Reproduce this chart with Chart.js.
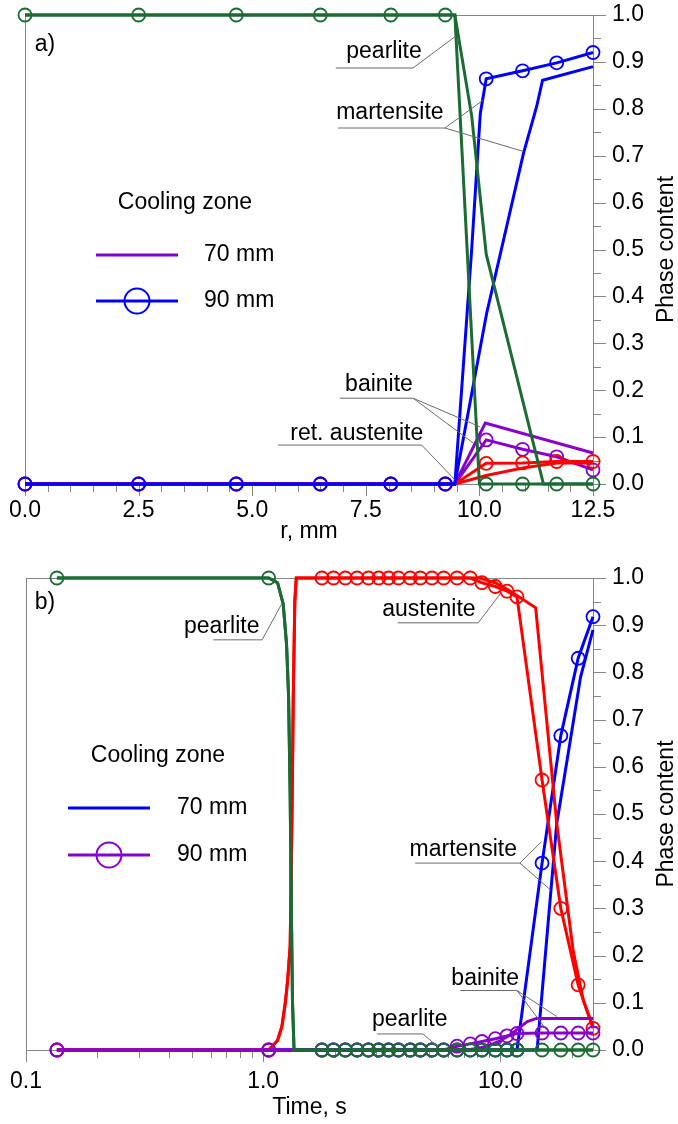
<!DOCTYPE html>
<html>
<head>
<meta charset="utf-8">
<script src="https://cdn.jsdelivr.net/npm/chart.js@4"></script>
<style>
  body { margin: 0; background: #fff; }
  #wrap { position: relative; width: 678px; height: 1124px; }
  canvas { position: absolute; left: 0; }
  #chartA { top: 0; }
  #chartB { top: 550px; }
</style>
</head>
<body>
<div id="wrap">
  <canvas id="chartA" width="678" height="550"></canvas>
  <canvas id="chartB" width="678" height="574"></canvas>
</div>
<script>
const FONT = "'Liberation Sans', Arial, sans-serif";
const GREEN = '#1b6b32', BLUE = '#0000ff', RED = '#ff0000', PURPLE = '#8800cc';

// ---------- panel a) : phase content over radius r, mm ----------
const rTicks = [0, 2.5, 5, 7.5, 10, 12.5];
const rMarks = [0, 2.5, 4.65, 6.5, 8.05, 9.25, 10.15, 10.95, 11.7, 12.5];   // 90 mm circles

const rPearlite90 = [0, 2.5, 4.65, 6.5, 8.05, 9.25, 9.46, 10.0, 10.15, 10.95, 11.7, 12.5];
const pearlite90A = [1, 1, 1, 1, 1, 1, 1, 0, 0, 0, 0, 0];
const rMartensite90 = [0, 2.5, 4.65, 6.5, 8.05, 9.25, 9.46, 9.83, 10.02, 10.15, 10.95, 11.7, 12.5];
const martensite90A = [0, 0, 0, 0, 0, 0, 0, 0.5, 0.79, 0.864, 0.881, 0.898, 0.92];
const rPhase90 = [0, 2.5, 4.65, 6.5, 8.05, 9.25, 9.46, 10.15, 10.95, 11.7, 12.5];
const bainite90A = [0, 0, 0, 0, 0, 0, 0, 0.094, 0.074, 0.058, 0.030];
const retAustenite90A = [0, 0, 0, 0, 0, 0, 0, 0.044, 0.045, 0.048, 0.048];

const rPearlite70 = [0, 9.46, 9.83, 10.15, 11.41, 12.5];
const pearlite70A = [1, 1, 0.785, 0.49, 0, 0];
const rMartensite70 = [0, 9.46, 10.16, 10.97, 11.26, 11.39, 12.5];
const martensite70A = [0, 0, 0.364, 0.705, 0.805, 0.861, 0.89];
const rBainite70 = [0, 9.46, 10.13, 12.5];
const bainite70A = [0, 0, 0.13, 0.066];
const rRetAustenite70 = [0, 9.46, 10.15, 10.95, 11.7, 12.5];
const retAustenite70A = [0, 0, 0.018, 0.034, 0.045, 0.045];

// ---------- panel b) : phase content over time, s ----------
const tTicks = [0.1, 1, 10];
const tMarks = [0.135, 1.055, 1.77, 1.98, 2.22, 2.49, 2.78, 3.07, 3.38, 3.72, 4.17, 4.6,
                5.15, 5.77, 6.57, 7.47, 8.37, 9.53, 10.67, 11.76, 15.0, 18.0, 21.3, 24.6];

const tPearlite90 = [0.135, 1.055, 1.15, 1.215, 1.255, 1.28, 1.3, 1.315, 1.33, 1.35, 1.77, 1.98, 2.22,
                     2.49, 2.78, 3.07, 3.38, 3.72, 4.17, 4.6, 5.15, 5.77, 6.57, 7.47, 8.37, 9.53,
                     10.67, 11.76, 15.0, 18.0, 21.3, 24.6];
const pearlite90B = [1, 1, 0.99, 0.945, 0.86, 0.75, 0.54, 0.3, 0.1, 0, 0, 0, 0,
                     0, 0, 0, 0, 0, 0, 0, 0, 0, 0, 0, 0, 0,
                     0, 0, 0, 0, 0, 0];
const tAustenite90 = [0.135, 1.055, 1.15, 1.2, 1.24, 1.27, 1.3, 1.32, 1.34, 1.36, 1.38, 1.77, 1.98,
                      2.22, 2.49, 2.78, 3.07, 3.38, 3.72, 4.17, 4.6, 5.15, 5.77, 6.57, 7.47, 8.37,
                      9.53, 10.67, 11.76, 15.0, 18.0, 21.3, 24.6];
const austenite90B = [0, 0, 0.02, 0.05, 0.1, 0.15, 0.22, 0.45, 0.75, 0.95, 1, 1, 1,
                      1, 1, 1, 1, 1, 1, 1, 1, 1, 1, 1, 1, 0.99,
                      0.982, 0.972, 0.96, 0.572, 0.30, 0.138, 0.046];
const martensite90B = [0, 0, 0, 0, 0, 0, 0, 0, 0, 0, 0, 0,
                       0, 0, 0, 0, 0, 0, 0, 0, 0.396, 0.666, 0.83, 0.918];
const bainite90B = [0, 0, 0, 0, 0, 0, 0, 0, 0, 0, 0, 0,
                    0, 0, 0.008, 0.013, 0.018, 0.024, 0.03, 0.035, 0.036, 0.036, 0.036, 0.036];

const tPearlite70 = [0.135, 1.055, 1.15, 1.215, 1.255, 1.28, 1.3, 1.315, 1.33, 1.35, 24.6];
const pearlite70B = [1, 1, 0.99, 0.945, 0.86, 0.75, 0.54, 0.3, 0.1, 0, 0];
const tAustenite70 = [0.135, 1.055, 1.15, 1.2, 1.24, 1.27, 1.3, 1.32, 1.34, 1.36, 1.38, 8.2, 9.5,
                      10.7, 11.76, 14.1, 17.3, 20.3, 22.4, 24.6];
const austenite70B = [0, 0, 0.02, 0.05, 0.1, 0.15, 0.22, 0.45, 0.75, 0.95, 1, 1, 0.99,
                      0.976, 0.963, 0.937, 0.48, 0.21, 0.105, 0.05];
const tMartensite70 = [0.135, 14.3, 17.3, 19.5, 21.8, 24.6];
const martensite70B = [0, 0, 0.48, 0.64, 0.79, 0.89];
const tBainite70 = [0.135, 7.2, 8.0, 9.0, 10.0, 11.0, 12.1, 13.0, 14.2, 24.6];
const bainite70B = [0, 0, 0.003, 0.01, 0.02, 0.032, 0.048, 0.06, 0.067, 0.067];

// text labels with leader lines, placed in data coordinates
const notesA = [
  { text: 'a)', at: [0.44, 0.936], lines: [] },
  { text: 'pearlite', at: [7.9, 0.921], lines: [[[6.84, 0.887], [8.54, 0.887], [9.48, 0.955]]] },
  { text: 'martensite', at: [8.03, 0.791], lines: [[[6.89, 0.759], [9.24, 0.759], [10.09, 0.819]],
                                                   [[9.24, 0.759], [10.97, 0.709]]] },
  { text: 'bainite', at: [7.79, 0.211], lines: [[[6.93, 0.183], [8.54, 0.183], [10.01, 0.122]],
                                                [[8.54, 0.183], [9.87, 0.087]]] },
  { text: 'ret. austenite', at: [7.3, 0.108], lines: [[[5.57, 0.083], [8.73, 0.083], [9.46, 0.009]]] }
];
const notesB = [
  { text: 'b)', at: [0.1203, 0.947], lines: [] },
  { text: 'pearlite', at: [0.669, 0.897], lines: [[[0.616, 0.869], [0.99, 0.869], [1.2, 0.946]]] },
  { text: 'austenite', at: [5.0, 0.932], lines: [[[3.69, 0.905], [8.07, 0.905], [10.15, 0.971]]] },
  { text: 'martensite', at: [6.98, 0.424], lines: [[[4.38, 0.396], [12.1, 0.396], [14.9, 0.441]],
                                                   [[12.1, 0.396], [16.3, 0.339]]] },
  { text: 'bainite', at: [8.64, 0.152], lines: [[[6.78, 0.126], [11.76, 0.126], [17.3, 0.071]],
                                                [[11.76, 0.126], [15.7, 0.042]]] },
  { text: 'pearlite', at: [4.15, 0.064], lines: [[[3.02, 0.034], [4.72, 0.034], [5.45, 0.007]]] }
];

Chart.defaults.font.family = FONT;
Chart.defaults.font.size = 23;
Chart.defaults.color = '#000';

function pts(xs, ys) {
  return xs.map((x, i) => ({ x: x, y: ys[i] }));
}

function plain(xs, ys, color) {
  return { data: pts(xs, ys), borderColor: color, borderWidth: 3, pointRadius: 0,
           pointHoverRadius: 0, fill: false, clip: false };
}

function marked(xs, ys, color, marks) {
  return { data: pts(xs, ys), borderColor: color, borderWidth: 3,
           pointRadius: c => (c.raw && marks.includes(c.raw.x)) ? 6.5 : 0,
           pointHoverRadius: 0, pointBorderColor: color, pointBorderWidth: 1.8,
           pointBackgroundColor: 'rgba(0,0,0,0)', fill: false, clip: false };
}

// frame, minor ticks, axis titles, notes and the "Cooling zone" legend
function decor(cfg) {
  return {
    id: 'decor',
    beforeDatasetsDraw(chart) {
      const ctx = chart.ctx, a = chart.chartArea;
      const xs = chart.scales.x, ys = chart.scales.y;
      ctx.save();
      ctx.strokeStyle = '#858585';
      ctx.lineWidth = 1;
      ctx.strokeRect(a.left + 0.5, a.top + 0.5, a.right - a.left, a.bottom - a.top);
      ctx.beginPath();
      cfg.xMajor.forEach(v => {
        const p = Math.round(xs.getPixelForValue(v)) + 0.5;
        ctx.moveTo(p, a.bottom); ctx.lineTo(p, a.bottom + 12);
      });
      cfg.xMinor.forEach(v => {
        const p = Math.round(xs.getPixelForValue(v)) + 0.5;
        ctx.moveTo(p, a.bottom); ctx.lineTo(p, a.bottom + 8);
      });
      for (let k = 0; k <= 20; k++) {
        const p = Math.round(ys.getPixelForValue(k * 0.05)) + 0.5;
        ctx.moveTo(a.right, p); ctx.lineTo(a.right + (k % 2 === 0 ? 13 : 8), p);
      }
      ctx.stroke();
      ctx.restore();
    },
    afterDatasetsDraw(chart) {
      const ctx = chart.ctx, a = chart.chartArea;
      const xs = chart.scales.x, ys = chart.scales.y;
      const px = p => [xs.getPixelForValue(p[0]), ys.getPixelForValue(p[1])];
      ctx.save();
      ctx.font = '23px ' + FONT;
      ctx.fillStyle = '#000';
      ctx.textBaseline = 'middle';

      // notes
      cfg.notes.forEach(n => {
        ctx.strokeStyle = '#6a6a6a';
        ctx.lineWidth = 1;
        n.lines.forEach(line => {
          ctx.beginPath();
          line.forEach((p, i) => {
            const q = px(p);
            if (i === 0) ctx.moveTo(q[0], q[1]); else ctx.lineTo(q[0], q[1]);
          });
          ctx.stroke();
        });
        const t = px(n.at);
        ctx.textAlign = 'center';
        ctx.fillText(n.text, t[0], t[1]);
      });

      // legend
      const lg = cfg.legend;
      ctx.textAlign = 'center';
      ctx.fillText('Cooling zone', lg.titleX, lg.titleY);
      lg.items.forEach(it => {
        ctx.strokeStyle = it.color;
        ctx.lineWidth = 3;
        ctx.beginPath();
        ctx.moveTo(lg.x0, it.y); ctx.lineTo(lg.x1, it.y);
        ctx.stroke();
        if (it.circle) {
          ctx.lineWidth = 2;
          ctx.beginPath();
          ctx.arc((lg.x0 + lg.x1) / 2, it.y, 12.5, 0, Math.PI * 2);
          ctx.stroke();
        }
        ctx.textAlign = 'left';
        ctx.fillText(it.label, lg.textX, it.y);
      });

      // axis titles
      ctx.textAlign = 'center';
      ctx.fillText(cfg.xTitle, (a.left + a.right) / 2, cfg.xTitleY);
      ctx.translate(667, (a.top + a.bottom) / 2);
      ctx.rotate(-Math.PI / 2);
      ctx.fillText('Phase content', 0, 0);
      ctx.restore();
    }
  };
}

function yAxis() {
  return {
    type: 'linear', position: 'right', min: 0, max: 1,
    grid: { display: false, drawTicks: false }, border: { display: false },
    ticks: { stepSize: 0.1, padding: 19, callback: v => Number(v).toFixed(1) },
    afterFit: s => { s.width = 85; s.paddingTop = 0; s.paddingBottom = 0; }
  };
}

const baseOptions = {
  responsive: false,
  animation: false,
  events: [],
  plugins: { legend: { display: false }, tooltip: { enabled: false } }
};

// ---- chart a
const rMinor = [];
for (let v = 0.5; v < 12.5; v += 0.5) if (!rTicks.includes(v)) rMinor.push(v);

new Chart(document.getElementById('chartA'), {
  type: 'line',
  data: {
    datasets: [
      marked(rPearlite90, pearlite90A, GREEN, rMarks),
      plain(rPearlite70, pearlite70A, GREEN),
      marked(rMartensite90, martensite90A, BLUE, rMarks),
      plain(rMartensite70, martensite70A, BLUE),
      marked(rPhase90, retAustenite90A, RED, rMarks),
      plain(rRetAustenite70, retAustenite70A, RED),
      marked(rPhase90, bainite90A, PURPLE, rMarks),
      plain(rBainite70, bainite70A, PURPLE)
    ]
  },
  options: Object.assign({}, baseOptions, {
    layout: { padding: { left: 25, top: 15, right: 0, bottom: 0 } },
    scales: {
      x: {
        type: 'linear', position: 'bottom', min: 0, max: 12.5,
        grid: { display: false, drawTicks: false }, border: { display: false },
        ticks: { stepSize: 2.5, padding: 13, maxRotation: 0, autoSkip: false,
                 callback: v => Number(v).toFixed(1) },
        afterFit: s => { s.height = 66; s.paddingLeft = 0; s.paddingRight = 0; }
      },
      y: yAxis()
    }
  }),
  plugins: [decor({
    xMajor: rTicks, xMinor: rMinor, xTitle: 'r, mm', xTitleY: 532, notes: notesA,
    legend: { titleX: 185, titleY: 203, x0: 96, x1: 178, textX: 204,
              items: [{ label: '70 mm', color: PURPLE, circle: false, y: 255 },
                      { label: '90 mm', color: BLUE, circle: true, y: 301 }] }
  })]
});

// ---- chart b
const tMax = 24.6;
const tMinor = [];
tTicks.forEach(d => { for (let k = 2; k <= 9; k++) if (k * d <= tMax) tMinor.push(k * d); });

new Chart(document.getElementById('chartB'), {
  type: 'line',
  data: {
    datasets: [
      marked(tPearlite90, pearlite90B, GREEN, tMarks),
      plain(tPearlite70, pearlite70B, GREEN),
      marked(tMarks, bainite90B, PURPLE, tMarks),
      plain(tBainite70, bainite70B, PURPLE),
      marked(tAustenite90, austenite90B, RED, tMarks),
      plain(tAustenite70, austenite70B, RED),
      marked(tMarks, martensite90B, BLUE, tMarks),
      plain(tMartensite70, martensite70B, BLUE)
    ]
  },
  options: Object.assign({}, baseOptions, {
    layout: { padding: { left: 26, top: 28, right: 0, bottom: 0 } },
    scales: {
      x: {
        type: 'logarithmic', position: 'bottom', min: 0.1, max: tMax,
        grid: { display: false, drawTicks: false }, border: { display: false },
        afterBuildTicks: s => { s.ticks = tTicks.map(v => ({ value: v })); },
        ticks: { padding: 18, maxRotation: 0, autoSkip: false,
                 callback: v => Number(v).toFixed(1) },
        afterFit: s => { s.height = 74; s.paddingLeft = 0; s.paddingRight = 0; }
      },
      y: yAxis()
    }
  }),
  plugins: [decor({
    xMajor: tTicks, xMinor: tMinor, xTitle: 'Time, s', xTitleY: 558, notes: notesB,
    legend: { titleX: 158, titleY: 206, x0: 68, x1: 150, textX: 177,
              items: [{ label: '70 mm', color: BLUE, circle: false, y: 258 },
                      { label: '90 mm', color: PURPLE, circle: true, y: 305 }] }
  })]
});
</script>
</body>
</html>
